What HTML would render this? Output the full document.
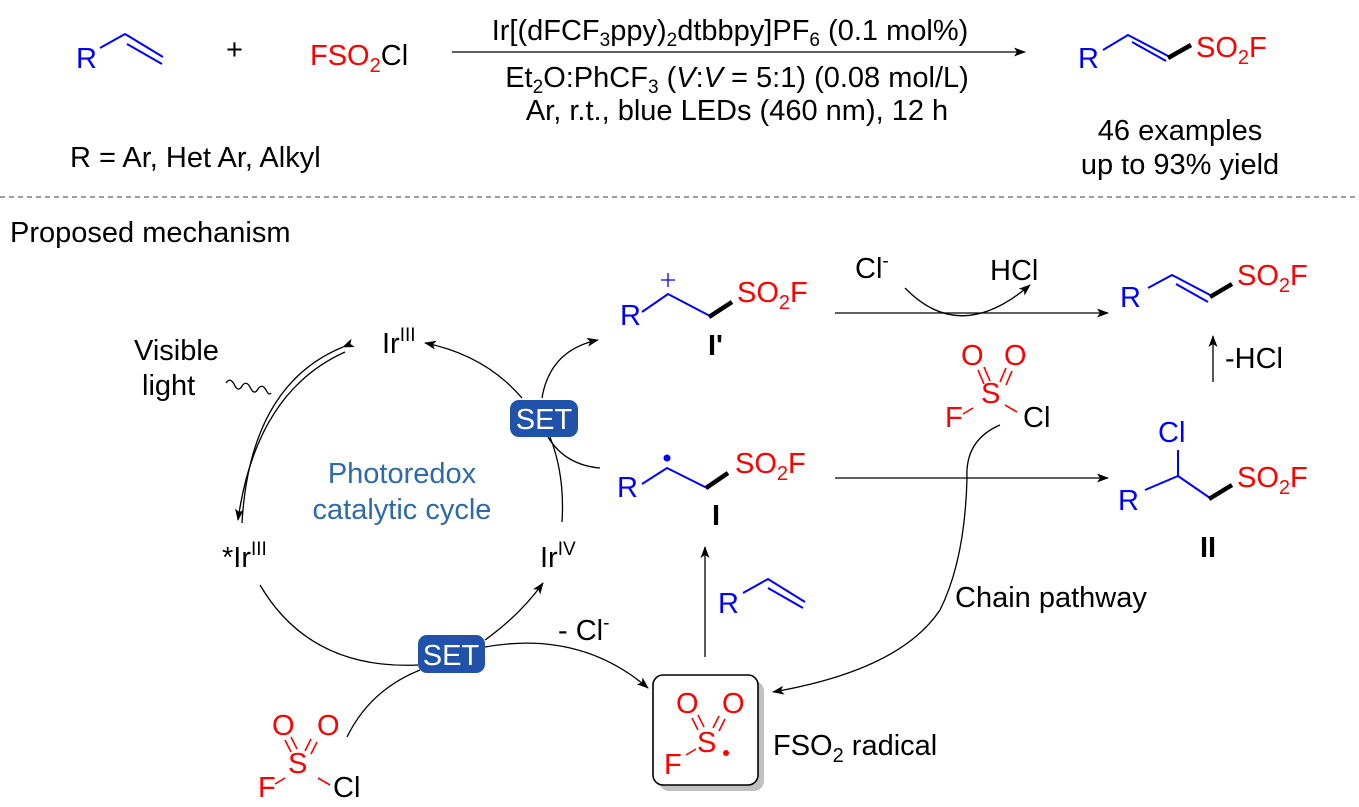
<!DOCTYPE html><html><head><style>body{margin:0;background:#fff}svg{display:block}text{font-family:"Liberation Sans",sans-serif;font-size:29px}</style></head><body>
<svg width="1359" height="807" viewBox="0 0 1359 807" xmlns="http://www.w3.org/2000/svg">
<defs><marker id="a" markerWidth="12" markerHeight="9" refX="11" refY="4.5" orient="auto" markerUnits="userSpaceOnUse"><path d="M0,0 L12,4.5 L0,9 L3,4.5z" fill="#000"/></marker></defs>
<g fill="none" stroke="#000" stroke-width="1.3">
<path d="M100,48 L125,34 L163,57 M127,44 L162,64" stroke="#00f" stroke-width="2"/>
<line x1="452" y1="52" x2="1025" y2="52" marker-end="url(#a)"/>
<path d="M1103,50 L1128,35 L1170,57 M1132,42 L1166,61" stroke="#00f" stroke-width="2"/>
<line x1="1168" y1="58" x2="1191" y2="45" stroke-width="4.5"/>
<line x1="0" y1="197" x2="1359" y2="197" stroke="#666" stroke-dasharray="5,4"/>
<path d="M343,347 Q250,385 242,523" marker-start="url(#a)"/>
<path d="M345,352 Q256,392 238,520" marker-end="url(#a)"/>
<path d="M226,383 q4,-6 8,1 q4,9 8,2 q4,-6 8,1 q4,9 8,2 q4,-6 8,1 q3,6 5,3"/>
<path d="M522,398 Q485,355 425,343" marker-end="url(#a)"/>
<path d="M542,398 Q550,350 598,340" marker-end="url(#a)"/>
<path d="M548,437 Q565,465 600,468"/>
<path d="M550,437 Q565,475 562,522"/>
<path d="M260,585 Q310,670 418,665"/>
<path d="M485,640 Q520,615 543,583" marker-end="url(#a)"/>
<path d="M485,647 Q580,630 648,688" marker-end="url(#a)"/>
<path d="M347,737 Q370,690 420,670"/>
<line x1="705" y1="657" x2="705" y2="547" marker-end="url(#a)"/>
<path d="M743,593 L768,579 L805,602 M768,588 L803,608" stroke="#00f" stroke-width="2"/>
<path d="M642,312 L668,294 L710,316" stroke="#00f" stroke-width="2"/><line x1="709" y1="317" x2="732" y2="302" stroke-width="4.5"/>
<path d="M668,287 v-14 M661,280 h14" stroke="#00f"/>
<path d="M642,484 L667,468 L707,488" stroke="#00f" stroke-width="2"/><line x1="706" y1="488" x2="728" y2="473" stroke-width="4.5"/>
<line x1="835" y1="313" x2="1108" y2="313" marker-end="url(#a)"/>
<line x1="835" y1="478" x2="1108" y2="478" marker-end="url(#a)"/>
<path d="M905,288 Q960,345 1030,285" marker-end="url(#a)"/>
<path d="M1148,288 L1172,275 L1212,296 M1176,284 L1208,302" stroke="#00f" stroke-width="2"/><line x1="1210" y1="297" x2="1232" y2="284" stroke-width="4.5"/>
<line x1="1213" y1="382" x2="1213" y2="336" marker-end="url(#a)"/>
<path d="M1145,490 L1178,476 L1210,498" stroke="#00f" stroke-width="2"/><line x1="1209" y1="499" x2="1232" y2="485" stroke-width="4.5"/><line x1="1178" y1="476" x2="1178" y2="450" stroke="#00f" stroke-width="2"/>
<path d="M1000,425 Q965,440 967,478 Q965,560 940,610 Q900,670 773,692" marker-end="url(#a)"/>
</g>
<g stroke="#f00" stroke-width="1.6">
<path d="M285,740 l6,12 M291,737 l6,12 M311,739 l-6,12 M317,742 l-6,12 M275,784 l10,-6 M318,778 l12,7"/>
<path d="M978,370 l6,14 M984,367 l6,14 M1006,368 l-6,14 M1012,371 l-6,14 M963,414 l10,-6 M1005,405 l12,7"/>
</g>
<rect x="659" y="681" width="105" height="110" rx="10" fill="#c0c0c0"/>
<rect x="653" y="675" width="105" height="110" rx="10" fill="#fff" stroke="#000" stroke-width="1.6"/>
<g stroke="#f00" stroke-width="1.6"><path d="M692,718 l6,12 M698,715 l6,12 M719,716 l-6,12 M725,719 l-6,12 M686,755 l10,-6"/></g>
<circle cx="726" cy="753" r="3" fill="#f00"/>
<rect x="510" y="400" width="68" height="37" rx="9" fill="#1f52a8"/>
<rect x="418" y="635" width="67" height="38" rx="9" fill="#1f52a8"/>
<g>
<text x="76" y="68" fill="#00f">R</text>
<text x="226" y="59">+</text>
<text x="310" y="65" font-size="30"><tspan fill="#f00">FSO</tspan><tspan fill="#f00" font-size="20" dy="7">2</tspan><tspan dy="-7">Cl</tspan></text>
<text x="730" y="40" text-anchor="middle" font-size="28">Ir[(dFCF<tspan font-size="19" dy="6">3</tspan><tspan dy="-6">ppy)</tspan><tspan font-size="19" dy="6">2</tspan><tspan dy="-6">dtbbpy]PF</tspan><tspan font-size="19" dy="6">6</tspan><tspan dy="-6"> (0.1 mol%)</tspan></text>
<text x="737" y="87" text-anchor="middle" font-size="28">Et<tspan font-size="19" dy="6">2</tspan><tspan dy="-6">O:PhCF</tspan><tspan font-size="19" dy="6">3</tspan><tspan dy="-6"> (</tspan><tspan font-style="italic">V</tspan>:<tspan font-style="italic">V</tspan> = 5:1) (0.08 mol/L)</text>
<text x="737" y="120" text-anchor="middle" font-size="28">Ar, r.t., blue LEDs (460 nm), 12 h</text>
<text x="1078" y="68" fill="#00f">R</text>
<text x="1196" y="57" fill="#f00">SO<tspan font-size="20" dy="7">2</tspan><tspan dy="-7">F</tspan></text>
<text x="1180" y="140" text-anchor="middle">46 examples</text>
<text x="1180" y="174" text-anchor="middle">up to 93% yield</text>
<text x="70" y="167">R = Ar, Het Ar, Alkyl</text>
<text x="10" y="242" font-size="28">Proposed mechanism</text>
<text x="134" y="360">Visible</text>
<text x="142" y="395">light</text>
<text x="382" y="353">Ir<tspan font-size="19" dy="-12">III</tspan></text>
<text x="402" y="483" text-anchor="middle" fill="#2e6aa8" font-size="30">Photoredox</text>
<text x="402" y="519" text-anchor="middle" fill="#2e6aa8" font-size="30">catalytic cycle</text>
<text x="222" y="567">*Ir<tspan font-size="19" dy="-12">III</tspan></text>
<text x="540" y="567">Ir<tspan font-size="19" dy="-12">IV</tspan></text>
<text x="544" y="429" fill="#fff" text-anchor="middle" font-size="28">SET</text>
<text x="451" y="665" fill="#fff" text-anchor="middle" font-size="28">SET</text>
<text x="558" y="640">- Cl<tspan font-size="19" dy="-11">-</tspan></text>
<text x="272" y="735" fill="#f00">O</text><text x="317" y="735" fill="#f00">O</text>
<text x="288" y="773" fill="#f00">S</text>
<text x="258" y="797" fill="#f00">F</text><text x="333" y="797">Cl</text>
<text x="676" y="713" fill="#f00">O</text><text x="722" y="713" fill="#f00">O</text>
<text x="697" y="752" fill="#f00">S</text><text x="664" y="774" fill="#f00">F</text>
<text x="773" y="755">FSO<tspan font-size="20" dy="7">2</tspan><tspan dy="-7"> radical</tspan></text>
<text x="718" y="613" fill="#00f">R</text>
<text x="620" y="325" fill="#00f">R</text>
<text x="737" y="302" fill="#f00">SO<tspan font-size="20" dy="7">2</tspan><tspan dy="-7">F</tspan></text>
<text x="708" y="355" font-weight="bold">I'</text>
<text x="617" y="497" fill="#00f">R</text>
<text x="735" y="473" fill="#f00">SO<tspan font-size="20" dy="7">2</tspan><tspan dy="-7">F</tspan></text>
<circle cx="667" cy="458" r="3.5" fill="#00f"/>
<text x="712" y="525" font-weight="bold">I</text>
<text x="855" y="278">Cl<tspan font-size="19" dy="-11">-</tspan></text>
<text x="990" y="280">HCl</text>
<text x="1120" y="307" fill="#00f">R</text>
<text x="1237" y="285" fill="#f00">SO<tspan font-size="20" dy="7">2</tspan><tspan dy="-7">F</tspan></text>
<text x="1225" y="368">-HCl</text>
<text x="961" y="365" fill="#f00">O</text><text x="1004" y="365" fill="#f00">O</text>
<text x="981" y="403" fill="#f00">S</text>
<text x="945" y="427" fill="#f00">F</text><text x="1023" y="427">Cl</text>
<text x="1158" y="442" fill="#00f">Cl</text>
<text x="1118" y="510" fill="#00f">R</text>
<text x="1237" y="487" fill="#f00">SO<tspan font-size="20" dy="7">2</tspan><tspan dy="-7">F</tspan></text>
<text x="1200" y="557" font-weight="bold">II</text>
<text x="955" y="607">Chain pathway</text>
</g>
</svg></body></html>
